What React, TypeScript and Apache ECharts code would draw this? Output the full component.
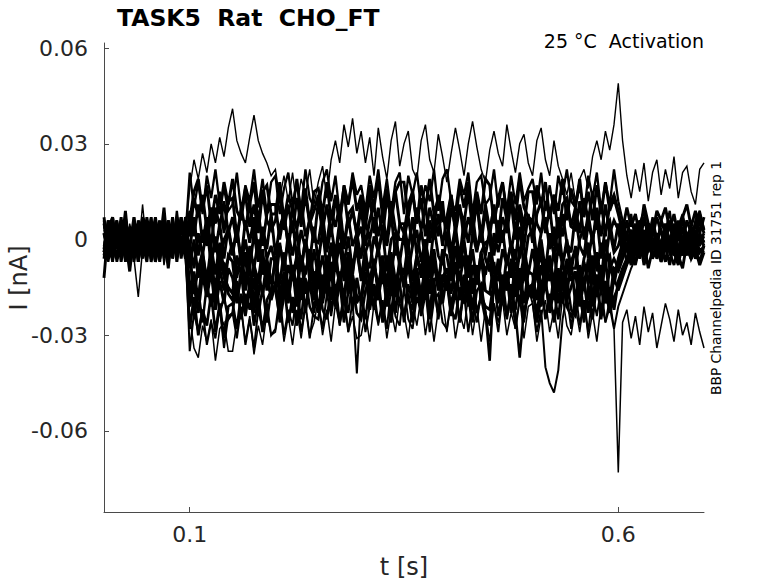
import React, { useEffect, useRef } from "react";
import * as echarts from "echarts";

// sample spacing of the traces, seconds
const DT = 0.005;
const X_MIN = 0;
const X_MAX = 0.7;
const Y_MIN = -0.0854;
const Y_MAX = 0.0616;
const X_TICKS = [0.1, 0.6];
const Y_TICKS = [-0.06, -0.03, 0, 0.03, 0.06];

const TITLE = "TASK5  Rat  CHO_FT";
const SUBTITLE = "25 °C  Activation";
const SIDE_NOTE = "BBP Channelpedia ID 31751 rep 1";
const X_NAME = "t [s]";
const Y_NAME = "I [nA]";

// currents in pA, one sample every 5 ms from t = 0 to t = 0.7 s
// (20 baseline samples, 100 samples during the step, 21 samples from 0.6 s)
const trA = [
  3, -5, 6, -2, 4, -7, 5, -1, -4, 11, -3, 2, -6, 4, -2, 6, -4, 3, -5, 1,
  16, 25, 19, 27, 21, 30, 24, 32, 26, 35,
  41, 31, 27, 24, 32, 39, 31, 27, 24, 20,
  22, 13, 20, 12, 21, 10, 19, 14, 22, 11,
  18, 23, 13, 25, 31, 24, 36, 29, 38, 27,
  34, 24, 32, 20, 35, 26, 19, 31, 37, 23,
  30, 34, 22, 19, 31, 36, 25, 21, 33, 26,
  18, 27, 35, 28, 20, 30, 37, 29, 22, 18,
  28, 34, 27, 23, 36, 28, 21, 30, 33, 24,
  20, 31, 35, 25, 20, 31, 23, 19, 14, 21,
  12, 19, 22, 16, 26, 31, 25, 34, 28, 36,
  49, 31, 20, 13, 22, 15, 24, 12, 21, 25, 14, 22, 16, 26, 13, 21, 23, 15, 11, 22, 24,
];
const trB = [
  5, -7, 1, 6, -4, 3, -6, 7, -2, -5, -2, 7, -5, 3, -6, 5, -4, 9, -3, 1,
  21, 10, 18, 8, 20, 13, 22, 11, 16, 9,
  11, 21, 9, 17, 12, 22, 10, 19, 8, 18,
  20, 8, 16, 21, 11, 18, 9, 22, 13, 10,
  9, 18, 22, 12, 20, 8, 17, 11, 21, 14,
  17, 9, 20, 13, 22, 10, 19, 8, 18, 21,
  8, 20, 14, 21, 10, 17, 12, 22, 9, 19,
  22, 12, 9, 19, 14, 21, 8, 18, 20, 11,
  13, 22, 10, 18, 9, 20, 11, 21, 12, 16,
  19, 11, 21, 9, 17, 8, 20, 14, 22, 12,
  10, 17, 8, 20, 13, 21, 9, 18, 11, 22,
  12, 6, 1, 8, -1, 5, 9, 0, 7, -2, 6, 2, 9, -1, 4, 8, 1, -2, 6, 9, 3,
];
const trO = [
  -4, 6, -6, 2, -3, 9, -5, 4, -7, 3, 6, -5, 3, -7, 5, -2, 7, -4, 1, -6,
  6, 15, 19, 9, 17, 5, 14, 8, 18, 11,
  19, 9, 6, 16, 11, 18, 5, 15, 17, 8,
  8, 18, 6, 14, 9, 19, 7, 16, 5, 15,
  16, 8, 18, 6, 14, 5, 17, 11, 19, 9,
  14, 6, 17, 10, 19, 7, 16, 5, 15, 18,
  18, 7, 15, 5, 17, 10, 19, 8, 13, 6,
  7, 14, 5, 17, 10, 18, 6, 15, 8, 19,
  17, 5, 13, 18, 8, 15, 6, 19, 10, 7,
  5, 17, 11, 18, 7, 14, 9, 19, 6, 16,
  10, 19, 7, 15, 6, 17, 8, 18, 9, 13,
  8, 2, -3, -8, 0, -6, -1, -9, -3, 1, -7, -2, -8, 0, -5, -9, -1, -6, -3, -8, -4,
];
const trC = [
  7, -3, -6, 4, -1, 6, -7, 3, 5, -4, 2, -6, 5, -2, 10, -5, 4, -7, 3, 6,
  1, 13, 7, 14, 3, 10, 5, 15, 2, 12,
  13, 1, 9, 14, 4, 11, 2, 15, 6, 3,
  6, 15, 3, 11, 2, 13, 4, 14, 5, 9,
  14, 3, 11, 1, 13, 6, 15, 4, 9, 2,
  12, 4, 14, 2, 10, 1, 13, 7, 15, 5,
  2, 11, 15, 5, 13, 1, 10, 4, 14, 7,
  4, 14, 2, 10, 5, 15, 3, 12, 1, 11,
  3, 10, 1, 13, 6, 14, 2, 11, 4, 15,
  15, 5, 2, 12, 7, 14, 1, 11, 13, 4,
  10, 2, 13, 6, 15, 3, 12, 1, 11, 14,
  9, 3, 10, 4, 8, 1, 11, 5, 2, 9, 6, 10, 3, 8, 1, 7, 11, 4, 9, 2, 7,
];
const trD = [
  -5, 2, -7, 5, -2, 6, -6, 3, -4, 7, 4, -4, 6, -6, 2, -7, 5, -1, 7, -3,
  9, 1, 11, -1, 7, -2, 10, 4, 12, 2,
  7, -1, 10, 3, 12, 0, 9, -2, 8, 11,
  11, 0, 8, -2, 10, 3, 12, 1, 6, -1,
  12, 2, -1, 9, 4, 11, -2, 8, 10, 1,
  10, -2, 6, 11, 1, 8, -1, 12, 3, 0,
  0, 7, -2, 10, 3, 11, -1, 8, 1, 12,
  -2, 10, 4, 11, 0, 7, 2, 12, -1, 9,
  1, 11, -1, 7, 2, 12, 0, 9, -2, 8,
  -1, 8, 12, 2, 10, -2, 7, 1, 11, 4,
  3, 12, 0, 8, -1, 10, 1, 11, 2, 6,
  3, -4, 2, -6, 3, -1, -5, 4, -3, 1, -6, 2, -2, 4, -5, 0, -3, 3, -6, 1, -2,
];
const trE = [
  -6, 3, 7, -3, 5, -7, 2, -4, 6, -1, -7, 5, -1, 6, -5, 2, -3, 7, -6, 4,
  -3, 7, -5, 3, -2, 8, -4, 5, -6, 4,
  -4, 3, -6, 6, -1, 7, -5, 4, -3, 8,
  -5, 4, 8, -2, 6, -6, 3, -3, 7, 0,
  -1, 8, -4, 4, -5, 6, -3, 7, -2, 2,
  -6, 6, 0, 7, -4, 3, -2, 8, -5, 5,
  5, -3, 7, -5, 3, -6, 6, 0, 8, -2,
  7, -4, 4, -6, 6, -1, 8, -3, 2, -5,
  3, -5, 6, -1, 8, -4, 5, -6, 4, 7,
  6, -6, 2, 7, -3, 4, -5, 8, -1, -4,
  8, -2, -5, 5, 0, 7, -6, 4, 6, -3,
  5, -1, 6, 0, 4, -2, 7, 1, 5, -3, 6, 2, -1, 5, 0, 7, -2, 4, 1, 6, 2,
];
const trF = [
  2, -6, 5, -2, 7, -5, 4, -7, 3, 6, 4, -4, 6, -6, 2, -7, 5, -1, 7, -3,
  -1, -9, 2, -5, 4, -8, 1, -10, 0, 3,
  -5, 4, -8, 0, -9, 2, -7, 3, -6, -2,
  -8, -1, -10, 2, -5, 3, -9, 0, -7, 4,
  -7, 3, -9, -1, -6, 4, -8, 1, -10, 0,
  4, -6, -9, 1, -4, 3, -10, 0, 2, -7,
  2, -10, -2, 3, -7, 0, -9, 4, -5, -8,
  1, -7, 3, -9, -1, -10, 2, -4, 4, -6,
  -10, 2, -4, 3, -8, -1, -6, 4, -9, 1,
  3, -8, 0, -10, 2, -5, 4, -7, -2, -9,
  -9, 0, 4, -6, 2, -10, -1, -7, 3, -4,
  -2, 3, -4, 1, -5, 4, -1, 5, -3, 2, -4, 0, 5, -2, 3, -5, 1, 4, -3, 2, -1,
];
const trG = [
  -12, 4, -6, 2, -3, 7, -5, 4, -7, 3, -5, 2, -7, 5, -2, 6, -6, 3, -4, 7,
  -9, 0, -12, -4, -13, -2, -11, -1, -10, -6,
  -1, -12, -4, -14, -2, -9, 0, -11, -6, -13,
  -14, -2, -8, -1, -12, -5, -10, 0, -13, -3,
  -12, -5, -14, -2, -9, -1, -13, -4, -11, 0,
  -13, -4, 0, -10, -2, -14, -5, -11, -1, -8,
  -11, -1, -13, -5, -10, 0, -12, -3, -14, -4,
  -5, -13, -2, -9, 0, -12, -3, -14, -4, -1,
  0, -10, -13, -3, -8, -1, -14, -4, -2, -11,
  -3, -11, -1, -13, -5, -14, -2, -8, 0, -10,
  -2, -14, -6, -1, -11, -4, -13, 0, -9, -12,
  -6, -1, -7, -2, -5, 1, -8, -3, 0, -6, -2, -7, 1, -4, -8, -1, -5, 2, -6, -3, -4,
];
const trH = [
  5, -2, 1, -6, 3, 0, -10, 2, -1, 6, -3, 0, 7, -2, 1, -5, 4, -1, -4, 2,
  -5, -17, -9, -4, -14, -7, -16, -3, -12, -15,
  -17, -5, -11, -4, -15, -8, -13, -3, -16, -6,
  -6, -14, -4, -16, -8, -17, -5, -11, -3, -13,
  -8, -16, -5, -12, -3, -15, -6, -17, -7, -4,
  -12, -3, -15, -7, -16, -5, -14, -4, -13, -9,
  -15, -8, -17, -5, -12, -4, -16, -7, -14, -3,
  -16, -7, -3, -13, -5, -17, -8, -14, -4, -11,
  -4, -15, -7, -17, -5, -12, -3, -14, -9, -16,
  -14, -4, -16, -8, -13, -3, -15, -6, -17, -7,
  -3, -13, -16, -6, -11, -4, -17, -7, -5, -14,
  -7, -3, 2, -3, 5, -1, 3, -4, 6, 0, -2, 5, -3, 2, -5, 4, 0, -4, 3, -1, 2,
];
const trP = [
  -3, 6, -1, 4, -7, 2, -4, 5, 0, -6, 7, -2, 3, -5, 1, -9, 4, -3, 6, -1,
  -17, -10, -19, -7, -14, -6, -18, -9, -16, -5,
  -7, -19, -11, -6, -16, -9, -18, -5, -14, -17,
  -5, -15, -18, -8, -13, -6, -19, -9, -7, -16,
  -6, -17, -9, -19, -7, -14, -5, -16, -11, -18,
  -19, -7, -13, -6, -17, -10, -15, -5, -18, -8,
  -14, -5, -17, -9, -18, -7, -16, -6, -15, -11,
  -16, -6, -18, -10, -15, -5, -17, -8, -19, -9,
  -8, -16, -6, -18, -10, -19, -7, -13, -5, -15,
  -18, -9, -5, -15, -7, -19, -10, -16, -6, -13,
  -10, -18, -7, -14, -5, -17, -8, -19, -9, -6,
  -9, -5, -2, 3, -4, 2, -1, 5, -3, 1, -5, 4, 0, -2, 6, -4, 1, -3, 3, -1, 0,
];
const trI = [
  -4, 1, 7, -2, 0, -6, 3, -1, 2, -3, 5, -7, 0, 3, -2, 6, -1, -5, 1, -2,
  -6, -16, -19, -9, -14, -7, -20, -10, -8, -17,
  -19, -10, -6, -16, -8, -20, -11, -17, -7, -14,
  -7, -18, -10, -20, -8, -15, -6, -17, -12, -19,
  -8, -20, -12, -7, -17, -10, -19, -6, -15, -18,
  -18, -11, -20, -8, -15, -7, -19, -10, -17, -6,
  -15, -6, -18, -10, -19, -8, -17, -7, -16, -12,
  -9, -17, -7, -19, -11, -20, -8, -14, -6, -16,
  -17, -7, -19, -11, -16, -6, -18, -9, -20, -10,
  -11, -19, -8, -15, -6, -18, -9, -20, -10, -7,
  -20, -8, -14, -7, -18, -11, -16, -6, -19, -9,
  -10, -6, -2, 3, -1, 6, 0, 5, 1, 7, 2, -2, 6, 1, 5, -1, 6, 2, 4, 8, 3,
];
const trJ = [
  2, -3, 0, 6, -5, 1, -2, 7, -4, 3, -1, 2, -7, 0, 4, -3, 1, 5, -2, -4,
  -21, -14, -23, -11, -18, -10, -22, -13, -20, -9,
  -12, -20, -10, -22, -14, -23, -11, -17, -9, -19,
  -14, -22, -11, -18, -9, -21, -12, -23, -13, -10,
  -23, -11, -17, -10, -21, -14, -19, -9, -22, -12,
  -20, -10, -22, -14, -19, -9, -21, -12, -23, -13,
  -9, -19, -22, -12, -17, -10, -23, -13, -11, -20,
  -11, -23, -15, -10, -20, -13, -22, -9, -18, -21,
  -22, -13, -9, -19, -11, -23, -14, -20, -10, -17,
  -18, -9, -21, -13, -22, -11, -20, -10, -19, -15,
  -10, -21, -13, -23, -11, -18, -9, -20, -15, -22,
  -13, -9, -6, -3, -7, -1, -4, 2, -5, -2, -6, 1, -4, -1, -7, 0, -3, -6, 1, -4, -2,
];
const trQ = [
  6, -4, 2, -7, 0, 5, -3, 1, -6, 4, -2, 7, -5, 0, 3, -6, 2, -1, 5, -3,
  -28, -18, -30, -22, -27, -17, -29, -20, -31, -21,
  -20, -28, -17, -24, -15, -27, -18, -29, -19, -16,
  -16, -24, -14, -26, -18, -27, -15, -21, -13, -23,
  -12, -22, -25, -15, -20, -13, -26, -16, -14, -23,
  -25, -16, -12, -22, -14, -26, -17, -23, -13, -20,
  -24, -17, -26, -14, -21, -13, -25, -16, -23, -12,
  -13, -24, -16, -26, -14, -21, -12, -23, -18, -25,
  -26, -14, -20, -13, -24, -17, -22, -12, -25, -15,
  -14, -26, -18, -13, -23, -16, -25, -12, -21, -24,
  -21, -12, -24, -16, -25, -14, -23, -13, -22, -18,
  -15, -10, -7, -4, -8, -2, -5, 0, -6, -3, -7, -1, -4, -8, -2, -5, 1, -6, -3, -7, -2,
];
const trK = [
  -2, 5, -1, -6, 2, 0, -7, 3, 1, -3, 2, -1, 4, -5, 0, 3, -3, 7, -1, 0,
  -13, -24, -16, -26, -14, -21, -12, -23, -18, -25,
  -23, -13, -25, -17, -22, -12, -24, -15, -26, -16,
  -14, -26, -18, -13, -23, -16, -25, -12, -21, -24,
  -25, -16, -12, -22, -14, -26, -17, -23, -13, -20,
  -17, -25, -14, -21, -12, -24, -15, -26, -16, -13,
  -26, -14, -20, -13, -24, -17, -22, -12, -25, -15,
  -12, -22, -25, -15, -20, -13, -26, -16, -14, -23,
  -38, -12, -24, -16, -25, -14, -23, -37, -22, -18,
  -15, -23, -13, -25, -17, -26, -14, -20, -12, -22,
  -24, -17, -26, -14, -21, -13, -25, -16, -23, -12,
  -16, -12, -8, -5, -2, -4, 1, -2, 4, 0, 3, -1, 5, 0, -3, 4, -1, 2, 5, -2, 1,
];
const trL = [
  4, 0, -3, 2, -6, 1, 3, -2, -1, 6, -4, 2, 0, -3, 7, -2, -5, 1, 3, -1,
  -35, -23, -29, -22, -33, -26, -31, -21, -34, -24,
  -23, -31, -21, -33, -25, -34, -22, -28, -20, -30,
  -28, -18, -30, -22, -27, -17, -29, -20, -31, -21,
  -20, -28, -17, -24, -15, -27, -18, -29, -19, -42,
  -17, -29, -21, -16, -26, -19, -28, -15, -24, -27,
  -15, -25, -28, -18, -23, -16, -29, -19, -17, -26,
  -28, -19, -15, -25, -17, -29, -20, -26, -16, -23,
  -27, -20, -29, -17, -24, -16, -28, -19, -26, -15,
  -20, -29, -22, -40, -45, -48, -41, -25, -17, -28,
  -16, -27, -19, -29, -17, -24, -15, -26, -21, -28,
  -21, -17, -13, -9, -6, -3, -5, -1, 1, -4, 0, 3, -2, -5, 1, -3, 2, -1, -4, 0, -2,
];
const trN = [
  -1, 3, -5, 0, 6, -2, 2, -6, -18, -3, 3, 0, -2, 5, -8, 1, -1, 2, -5, 0,
  -24, -34, -37, -27, -32, -25, -38, -28, -26, -35,
  -35, -26, -22, -32, -24, -36, -27, -33, -23, -30,
  -29, -20, -32, -24, -33, -22, -31, -21, -30, -26,
  -19, -30, -22, -32, -20, -27, -18, -29, -24, -31,
  -30, -23, -32, -20, -27, -19, -31, -22, -29, -18,
  -23, -31, -20, -27, -18, -30, -21, -32, -22, -19,
  -29, -19, -31, -23, -28, -18, -30, -21, -32, -22,
  -32, -20, -26, -19, -30, -23, -28, -18, -31, -21,
  -20, -32, -24, -19, -29, -22, -31, -18, -27, -30,
  -21, -29, -19, -31, -23, -32, -20, -26, -18, -28,
  -73, -26, -22, -31, -24, -33, -21, -29, -23, -34, -27, -20, -25, -32, -22, -30, -26, -33, -23, -29, -34,
];

// drawing order: outer traces last so their thin strokes stay on top
const TRACES = [trB, trO, trC, trD, trE, trF, trG, trH, trP, trI, trJ, trQ, trK, trL, trA, trN];
// line widths for the traces in TRACES order (inner traces drawn bolder)
const WIDTHS = [2.3, 2.9, 2.9, 2.9, 2.9, 2.9, 2.9, 2.9, 2.9, 2.9, 2.9, 2.7, 2.5, 2.0, 1.4, 1.5];

const FONT = '"DejaVu Sans", "Liberation Sans", sans-serif';
const TICK_COLOR = "#262626";
const AXIS_COLOR = "#4a4a4a";

export default function App() {
  const ref = useRef<HTMLDivElement>(null);

  useEffect(() => {
    if (!ref.current) return;
    const chart = echarts.init(ref.current, null, { renderer: "svg" });

    const series = TRACES.map((tr, k) => ({
      type: "line",
      data: tr.map((v, i) => [i * DT, v / 1000]),
      showSymbol: false,
      symbol: "none",
      silent: true,
      lineStyle: { color: "#000000", width: WIDTHS[k], join: "miter", miterLimit: 3 },
    }));

    chart.setOption({
      animation: false,
      grid: { left: 104, right: 74, top: 43, bottom: 71, containLabel: false },
      xAxis: {
        type: "value",
        min: X_MIN,
        max: X_MAX,
        axisLine: { show: true, onZero: false, lineStyle: { color: AXIS_COLOR, width: 1 } },
        axisTick: { show: true, inside: true, length: 5, customValues: X_TICKS, lineStyle: { color: AXIS_COLOR } },
        axisLabel: {
          customValues: X_TICKS,
          color: TICK_COLOR,
          fontSize: 22,
          fontFamily: FONT,
          margin: 11,
          formatter: (v: number) => String(v),
        },
        splitLine: { show: false },
      },
      yAxis: {
        type: "value",
        min: Y_MIN,
        max: Y_MAX,
        axisLine: { show: true, onZero: false, lineStyle: { color: AXIS_COLOR, width: 1 } },
        axisTick: { show: true, inside: true, length: 5, customValues: Y_TICKS, lineStyle: { color: AXIS_COLOR } },
        axisLabel: {
          customValues: Y_TICKS,
          color: TICK_COLOR,
          fontSize: 22,
          fontFamily: FONT,
          margin: 16,
          formatter: (v: number) => (Math.abs(v) < 1e-9 ? "0" : String(v)),
        },
        splitLine: { show: false },
      },
      series,
      graphic: [
        {
          type: "text",
          x: 117,
          y: 18,
          silent: true,
          style: {
            text: TITLE,
            fill: "#000000",
            fontSize: 23.5,
            fontWeight: "bold",
            fontFamily: FONT,
            textAlign: "left",
            textVerticalAlign: "middle",
            align: "left",
            verticalAlign: "middle",
          },
        },
        {
          type: "text",
          x: 704,
          y: 41,
          silent: true,
          style: {
            text: SUBTITLE,
            fill: "#000000",
            fontSize: 19,
            fontFamily: FONT,
            textAlign: "right",
            textVerticalAlign: "middle",
            align: "right",
            verticalAlign: "middle",
          },
        },
        {
          type: "text",
          x: 716,
          y: 278,
          rotation: Math.PI / 2,
          silent: true,
          style: {
            text: SIDE_NOTE,
            fill: "#000000",
            fontSize: 13.8,
            fontFamily: FONT,
            textAlign: "center",
            textVerticalAlign: "middle",
            align: "center",
            verticalAlign: "middle",
          },
        },
        {
          type: "text",
          x: 19,
          y: 278,
          rotation: Math.PI / 2,
          silent: true,
          style: {
            text: Y_NAME,
            fill: TICK_COLOR,
            fontSize: 24,
            fontFamily: FONT,
            textAlign: "center",
            textVerticalAlign: "middle",
            align: "center",
            verticalAlign: "middle",
          },
        },
        {
          type: "text",
          x: 404,
          y: 567,
          silent: true,
          style: {
            text: X_NAME,
            fill: TICK_COLOR,
            fontSize: 24,
            fontFamily: FONT,
            textAlign: "center",
            textVerticalAlign: "middle",
            align: "center",
            verticalAlign: "middle",
          },
        },
      ],
    });

    return () => chart.dispose();
  }, []);

  return (
    <div
      ref={ref}
      style={{ position: "fixed", left: 0, top: 0, width: 778, height: 583, background: "#ffffff" }}
    />
  );
}
